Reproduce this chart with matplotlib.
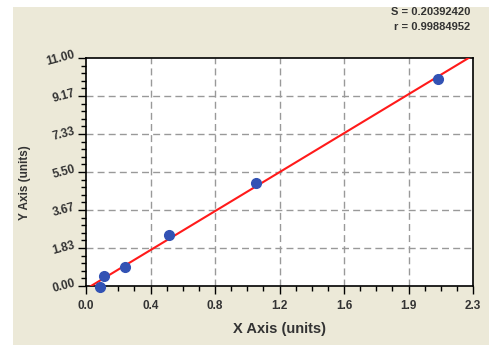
import numpy as np
import matplotlib.pyplot as plt
from matplotlib.patches import Rectangle
from matplotlib.ticker import FixedLocator, AutoMinorLocator

plt.rcParams['font.family'] = ['Liberation Sans', 'DejaVu Sans']
plt.rcParams['font.weight'] = 'bold'

# standard points
x_pts = [0.083, 0.109, 0.232, 0.495, 1.010, 2.093]
y_pts = [-0.05, 0.49, 0.94, 2.48, 4.99, 9.99]

x_max = 2.3
y_max = 11.0
x_ticklabels = ['0.0', '0.4', '0.8', '1.2', '1.6', '1.9', '2.3']
y_ticklabels = ['0.00', '1.83', '3.67', '5.50', '7.33', '9.17', '11.00']
s_text = 'S = 0.20392420'
r_text = 'r = 0.99884952'

fig = plt.figure(figsize=(5.04, 3.49), dpi=100)
fig.patch.set_facecolor('white')
# beige panel behind everything
fig.patches.append(Rectangle((13/504, 1 - 345/349), 476/504, 338/349,
                             transform=fig.transFigure, facecolor='#ece9d8',
                             edgecolor='none', zorder=-10))

ax = fig.add_axes([86/504, 1 - 286/349, 387/504, 228/349])
ax.set_facecolor('white')

# fitted line from the points
k, b = np.polyfit(x_pts, y_pts, 1)
xf = np.linspace(0, x_max, 50)
ax.plot(xf, k*xf + b, color='#ff1a1a', lw=1.5, zorder=3)

ax.plot(x_pts, y_pts, 'o', color='#3252b4', ms=7, zorder=4, clip_on=False)

ax.set_xlim(0, x_max)
ax.set_ylim(0, y_max)
xt = np.linspace(0, x_max, len(x_ticklabels))
yt = np.linspace(0, y_max, len(y_ticklabels))
ax.xaxis.set_major_locator(FixedLocator(xt))
ax.yaxis.set_major_locator(FixedLocator(yt))
ax.set_xticklabels(x_ticklabels, fontsize=8.5, fontweight='bold', color='#333333')
ax.set_yticklabels(y_ticklabels, fontsize=8.5, fontweight='bold', color='#333333',
                   rotation=15, va='center')
ax.xaxis.set_minor_locator(AutoMinorLocator(4))
ax.yaxis.set_minor_locator(AutoMinorLocator(5))
ax.tick_params(which='major', direction='out', length=6, width=1)
ax.tick_params(which='minor', direction='out', length=3.5, width=1)
ax.tick_params(axis='x', which='major', pad=4)
ax.tick_params(axis='y', which='major', pad=1)

for v in xt[1:-1]:
    ax.axvline(v, color='#999999', lw=1, ls=(0, (5, 3)), zorder=1)
for v in yt[1:-1]:
    ax.axhline(v, color='#999999', lw=1, ls=(0, (5, 3)), zorder=1)

for s in ax.spines.values():
    s.set_linewidth(1.2)
    s.set_color('black')

ax.set_xlabel('X Axis (units)', fontsize=10.5, fontweight='bold', color='#333333', labelpad=7)
fig.text(25/504, 1 - 183/349, 'Y Axis (units)', rotation=90, ha='center', va='center',
         fontsize=8.5, fontweight='bold', color='#333333')

fig.text(470/504, 1 - 12/349, s_text, ha='right', va='center', fontsize=8,
         fontweight='bold', color='#333333')
fig.text(470/504, 1 - 27/349, r_text, ha='right', va='center', fontsize=8,
         fontweight='bold', color='#333333')

fig.savefig('out.png', dpi=100)
